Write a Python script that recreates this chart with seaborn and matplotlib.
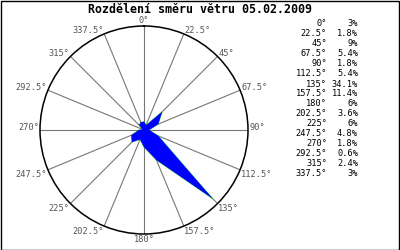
import numpy as np
import matplotlib
matplotlib.use("Agg")
import matplotlib.pyplot as plt
import seaborn as sns
import pandas as pd
from matplotlib.patches import Rectangle

directions = [0, 22.5, 45, 67.5, 90, 112.5, 135, 157.5, 180, 202.5, 225, 247.5, 270, 292.5, 315, 337.5]
percent = [3, 1.8, 9, 5.4, 1.8, 5.4, 34.1, 11.4, 6, 3.6, 6, 4.8, 1.8, 0.6, 2.4, 3]
dir_labels = ["0°", "22.5°", "45°", "67.5°", "90°", "112.5°", "135°", "157.5°", "180°",
              "202.5°", "225°", "247.5°", "270°", "292.5°", "315°", "337.5°"]
pct_labels = ["3%", "1.8%", "9%", "5.4%", "1.8%", "5.4%", "34.1%", "11.4%", "6%",
              "3.6%", "6%", "4.8%", "1.8%", "0.6%", "2.4%", "3%"]
title = "Rozdělení směru větru 05.02.2009"

sns.set_style("white")
plt.rcParams['font.family'] = ['DejaVu Sans Mono', 'DejaVu Sans']

W, H = 400, 250
fig = plt.figure(figsize=(4, 2.5), dpi=100)
fig.patch.set_facecolor("white")

cx, cy, R = 144, 130, 104
ax = fig.add_axes([(cx - R) / W, (H - cy - R) / H, 2 * R / W, 2 * R / H], projection="polar")
ax.set_theta_zero_location("N")
ax.set_theta_direction(-1)
rmax = 36.5
ax.set_ylim(0, rmax)
ax.set_xticks([])
ax.set_yticks([])
ax.grid(False)
ax.spines["polar"].set_color("black")
ax.spines["polar"].set_linewidth(1.1)
ax.set_facecolor("white")

# spokes
for d in directions:
    t = np.deg2rad(d)
    ax.plot([t, t], [0, rmax], color="#777777", lw=0.8, zorder=1)

# data polygon
df = pd.DataFrame({"theta": np.deg2rad(directions + [directions[0]]),
                   "r": percent + [percent[0]]})
sns.lineplot(data=df, x="theta", y="r", sort=False, color="#00cc00", lw=0.5, ax=ax, zorder=2)
ax.fill(df["theta"], df["r"], color="#0000ff", lw=0, zorder=3)
ax.set_xlabel("")
ax.set_ylabel("")
ax.set_ylim(0, rmax)

# direction labels
for d, lab in zip(directions, dir_labels):
    t = np.deg2rad(d)
    if d == 0:
        ha, va = "center", "bottom"
    elif d == 180:
        ha, va = "center", "top"
    elif d < 180:
        ha = "left"
        va = "baseline" if d <= 90 else "top"
    else:
        ha = "right"
        va = "baseline" if d >= 270 else "top"
    ax.text(t, rmax * 1.01, lab, ha=ha, va=va, fontsize=6.2, color="#555555",
            clip_on=False)

# title
fig.text(200 / W, 1 - 9.5 / H, title, ha="center", va="center", fontsize=8.4,
         fontweight="bold", color="black")

# table
for i, (dl, pl) in enumerate(zip(dir_labels, pct_labels)):
    y = 24 + i * 10
    fig.text(327 / W, 1 - y / H, dl, ha="right", va="center", fontsize=6.2, color="black")
    fig.text(358 / W, 1 - y / H, pl, ha="right", va="center", fontsize=6.2, color="black")

# border
fig.patches.append(Rectangle((0.5 / W, 0.5 / H), 1 - 1.5 / W, 1 - 1.5 / H,
                             transform=fig.transFigure, fill=False, ec="black", lw=1.0))

fig.savefig("out.png", dpi=100)
